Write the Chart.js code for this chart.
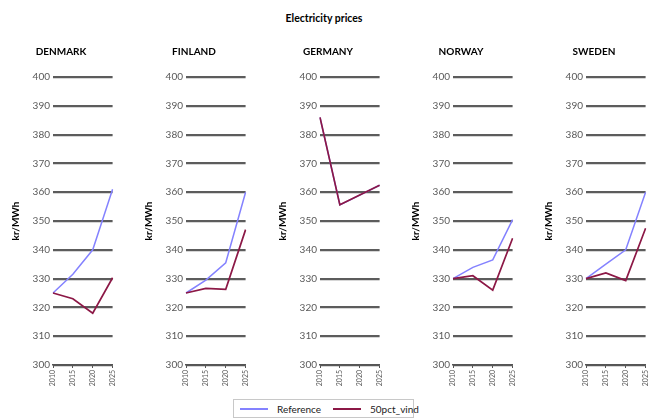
<!DOCTYPE html>
<html>
<head>
<meta charset="utf-8">
<script src="https://cdn.jsdelivr.net/npm/chart.js@4.4.1/dist/chart.umd.min.js"></script>
<style>
  html, body { margin: 0; padding: 0; background: #ffffff; }
  body { width: 648px; height: 420px; position: relative; overflow: hidden; font-family: Lato, "Open Sans", sans-serif; }
  #title { position: absolute; left: 0; width: 648px; top: 12px; text-align: center; font-weight: bold; font-size: 10.5px; color: #000; }
  .panel { position: absolute; top: 40px; width: 116px; height: 353px; }
  #legend { position: absolute; left: 233px; top: 399px; width: 181px; height: 19px; border: 1px solid #c8c8c8; box-sizing: border-box; font-size: 10px; color: #222; }
  #legend .item { position: absolute; top: 2px; height: 14px; line-height: 14px; white-space: nowrap; }
  #legend .sw { display: inline-block; width: 28px; height: 2px; vertical-align: middle; margin-right: 9px; position: relative; top: -1px; }
</style>
</head>
<body>
<div id="title">Electricity prices</div>
<canvas class="panel" id="c0" width="116" height="353"></canvas>
<canvas class="panel" id="c1" width="116" height="353"></canvas>
<canvas class="panel" id="c2" width="116" height="353"></canvas>
<canvas class="panel" id="c3" width="116" height="353"></canvas>
<canvas class="panel" id="c4" width="116" height="353"></canvas>
<div id="legend"></div>
<script>
// ---- data ----
const years = ['2010', '2015', '2020', '2025'];
const countries = ['DENMARK', 'FINLAND', 'GERMANY', 'NORWAY', 'SWEDEN'];
const seriesNames = ['Reference', '50pct_vind'];

const referenceDenmark = [325, 331.5, 340, 361];
const referenceFinland = [325, 329.5, 335.5, 360];
const referenceGermany = [386, 355.6, 359, 362.4];
const referenceNorway  = [330, 333.9, 336.5, 350.5];
const referenceSweden  = [330, 335, 340, 360];

const vindDenmark = [325, 323, 318, 330.3];
const vindFinland = [325, 326.6, 326.3, 347];
const vindGermany = [386, 355.6, 359, 362.4];
const vindNorway  = [330, 331, 326, 344];
const vindSweden  = [330, 332, 329.3, 347.5];

const yTicks = [300, 310, 320, 330, 340, 350, 360, 370, 380, 390, 400];
const yAxisTitle = 'kr/MWh';

// ---- styling ----
const refColor = '#8482ff';
const vindColor = '#8c1846';
const fontFam = 'Lato, "Open Sans", sans-serif';

const referenceSets = [referenceDenmark, referenceFinland, referenceGermany, referenceNorway, referenceSweden];
const vindSets = [vindDenmark, vindFinland, vindGermany, vindNorway, vindSweden];

countries.forEach((name, i) => {
  const cv = document.getElementById('c' + i);
  const chartLeft = 53 + i * 133.3;
  cv.style.left = (chartLeft - 46) + 'px';
  new Chart(cv, {
    type: 'line',
    data: {
      labels: years,
      datasets: [
        { label: seriesNames[0], data: referenceSets[i], borderColor: refColor, backgroundColor: refColor,
          borderWidth: 1.5, pointRadius: 0, tension: 0, order: 2 },
        { label: seriesNames[1], data: vindSets[i], borderColor: vindColor, backgroundColor: vindColor,
          borderWidth: 1.7, pointRadius: 0, tension: 0, order: 1 }
      ]
    },
    options: {
      responsive: false,
      animation: false,
      events: [],
      layout: { padding: { left: 0, right: 8, top: 0, bottom: 0 } },
      plugins: {
        legend: { display: false },
        tooltip: { enabled: false },
        title: {
          display: true, text: name, align: 'center', color: '#000',
          font: { family: fontFam, size: 10, weight: 'bold', lineHeight: 1.2 },
          padding: { top: 6, bottom: 19 }
        }
      },
      scales: {
        x: {
          type: 'category',
          offset: false,
          grid: { display: true, drawOnChartArea: false, drawTicks: true, tickLength: 3, color: '#555', lineWidth: 1 },
          border: { display: true, color: '#555', width: 1.5 },
          ticks: { color: '#595959', font: { family: fontFam, size: 7 }, maxRotation: 90, minRotation: 90, padding: 2, autoSkip: false },
          afterFit: (s) => { s.height = 28; }
        },
        y: {
          min: 300, max: 400,
          afterBuildTicks: (s) => { s.ticks = yTicks.map(v => ({ value: v })); },
          grid: { display: true, drawTicks: false, color: '#5c5c5c', lineWidth: 2.2 },
          border: { display: false },
          ticks: { color: '#595959', font: { family: fontFam, size: 10 }, padding: 3 },
          title: { display: true, text: yAxisTitle, color: '#000', font: { family: fontFam, size: 10, weight: 'bold' }, padding: { top: 3, bottom: 3 } },
          afterFit: (s) => { s.width = 46; }
        }
      }
    }
  });
});

// ---- legend ----
const legend = document.getElementById('legend');
const legendItems = [
  { text: seriesNames[0], color: refColor, left: 6 },
  { text: seriesNames[1], color: vindColor, left: 99 }
];
legendItems.forEach(it => {
  const d = document.createElement('div');
  d.className = 'item';
  d.style.left = it.left + 'px';
  const sw = document.createElement('span');
  sw.className = 'sw';
  sw.style.background = it.color;
  d.appendChild(sw);
  d.appendChild(document.createTextNode(it.text));
  legend.appendChild(d);
});
</script>
</body>
</html>
